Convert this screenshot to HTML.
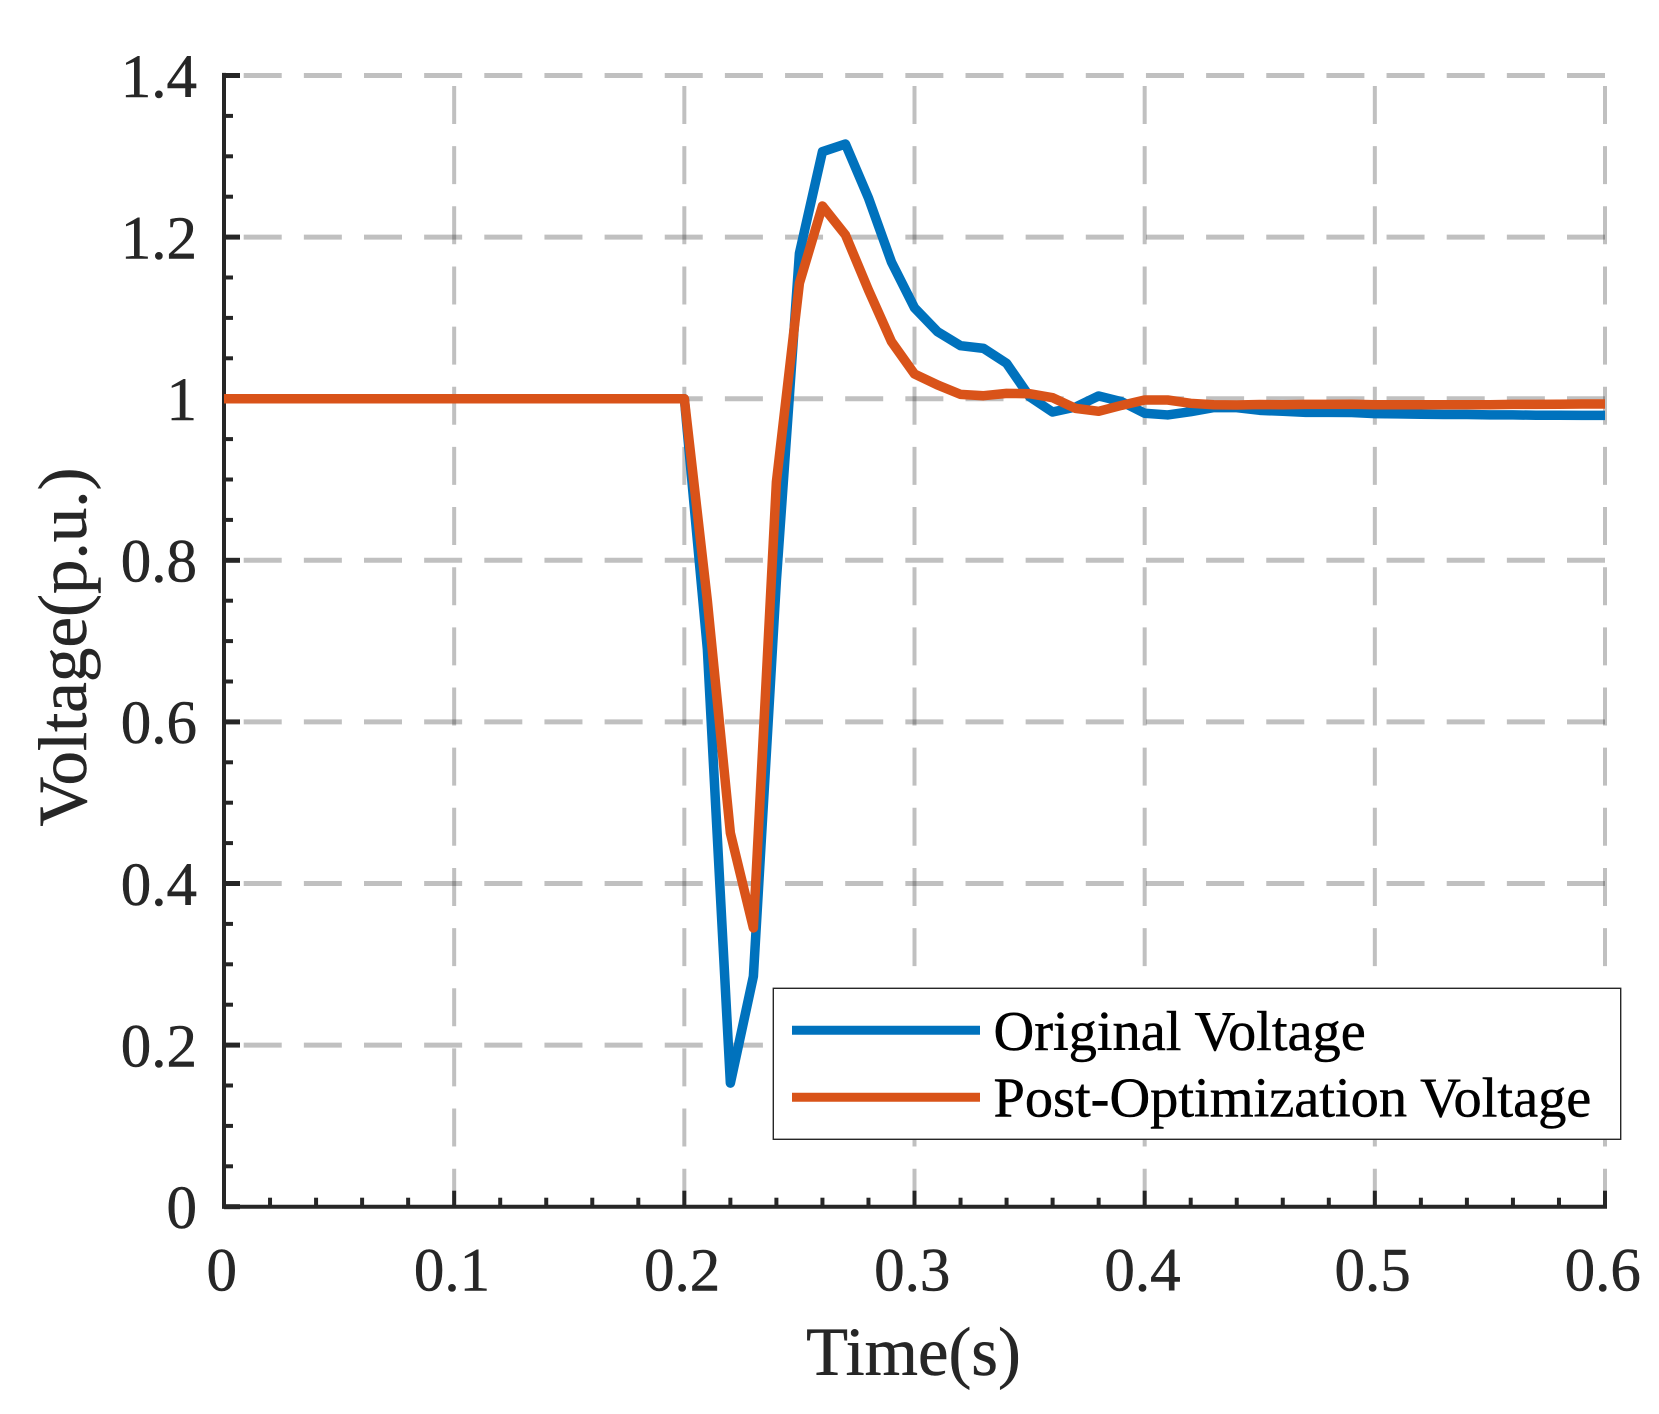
<!DOCTYPE html>
<html lang="en">
<head>
<meta charset="utf-8">
<title>Voltage vs Time</title>
<style>
html,body{margin:0;padding:0;background:#fff;}
svg{display:block;}
text{font-family:"Liberation Serif","Times New Roman",serif;}
</style>
</head>
<body>
<svg id="chart" xmlns="http://www.w3.org/2000/svg" width="1659" height="1414" viewBox="0 0 1659 1414">
  <rect x="0" y="0" width="1659" height="1414" fill="#ffffff"/>
  <g id="grid"></g>
  <g id="axes"></g>
  <g id="series"></g>
  <g id="tick-labels" font-size="61" fill="#262626" stroke="#262626" stroke-width="0.5"></g>
  <text x="913.5" y="1375" font-size="68.6" fill="#262626" stroke="#262626" stroke-width="0.5" text-anchor="middle">Time(s)</text>
  <text transform="translate(86 647) rotate(-90)" font-size="69" fill="#262626" stroke="#262626" stroke-width="0.5" text-anchor="middle">Voltage(p.u.)</text>
  <g>
    <rect x="773.3" y="988.3" width="847.4" height="151" fill="#ffffff" stroke="#262626" stroke-width="1.4"/>
    <line x1="792" y1="1030.3" x2="980" y2="1030.3" stroke="#0072BD" stroke-width="9"/>
    <line x1="792" y1="1097.3" x2="980" y2="1097.3" stroke="#D95319" stroke-width="9"/>
    <text x="993.5" y="1050" font-size="56.4" fill="#000000" stroke="#000000" stroke-width="0.5">Original Voltage</text>
    <text x="993.5" y="1116.7" font-size="56.4" fill="#000000" stroke="#000000" stroke-width="0.5">Post-Optimization Voltage</text>
  </g>
</svg>
<script>
const timeValues = [0,0.01,0.02,0.03,0.04,0.05,0.06,0.07,0.08,0.09,0.1,0.11,0.12,0.13,0.14,0.15,0.16,0.17,0.18,0.19,
  0.2,0.21,0.22,0.23,0.24,0.25,0.26,0.27,0.28,0.29,0.3,0.31,0.32,0.33,0.34,0.35,0.36,0.37,0.38,0.39,
  0.4,0.41,0.42,0.43,0.44,0.45,0.46,0.47,0.48,0.49,0.5,0.51,0.52,0.53,0.54,0.55,0.56,0.57,0.58,0.59,0.6];
const originalVoltage = [1,1,1,1,1,1,1,1,1,1,1,1,1,1,1,1,1,1,1,1,
  1,0.69,0.153,0.285,0.775,1.18,1.3057,1.3152,1.2484,1.169,1.1125,1.083,1.0656,1.0623,1.0438,1.0025,0.9835,0.9897,1.0034,0.9963,
  0.982,0.9799,0.9839,0.989,0.9889,0.9856,0.9844,0.9831,0.9831,0.9829,0.9815,0.9812,0.9808,0.9805,0.9805,0.98,0.98,0.9795,0.9795,0.9794,0.9794];
const postOptimizationVoltage = [1,1,1,1,1,1,1,1,1,1,1,1,1,1,1,1,1,1,1,1,
  1,0.75,0.4625,0.345,0.897,1.143,1.2385,1.2027,1.1345,1.0706,1.0306,1.017,1.0054,1.0037,1.0066,1.0062,1.0013,0.988,0.9844,0.9918,
  0.9984,0.9984,0.9943,0.9925,0.9922,0.9928,0.9925,0.993,0.993,0.9932,0.9925,0.9925,0.9925,0.9925,0.9925,0.9925,0.993,0.993,0.9932,0.9934,0.9934];
const xTickValues = [0,0.1,0.2,0.3,0.4,0.5,0.6];
const xTickLabels = ["0","0.1","0.2","0.3","0.4","0.5","0.6"];
const yTickValues = [0,0.2,0.4,0.6,0.8,1,1.2,1.4];
const yTickLabels = ["0","0.2","0.4","0.6","0.8","1","1.2","1.4"];
const xMinorTickValues = [0.02,0.04,0.06,0.08,0.12,0.14,0.16,0.18,0.22,0.24,0.26,0.28,0.32,0.34,0.36,0.38,0.42,0.44,0.46,0.48,0.52,0.54,0.56,0.58];
const yMinorTickValues = [0.05,0.1,0.15,0.25,0.3,0.35,0.45,0.5,0.55,0.65,0.7,0.75,0.85,0.9,0.95,1.05,1.1,1.15,1.25,1.3,1.35];

const SVG_NS = 'http://www.w3.org/2000/svg';
const xScale = v => 224 + v * 2301.67;
const yScale = v => 1206.7 - v * 808;
const AXIS_COLOR = '#262626';

function makeLine(parent, x1, y1, x2, y2, stroke, width, dash) {
  const el = document.createElementNS(SVG_NS, 'line');
  el.setAttribute('x1', x1);
  el.setAttribute('y1', y1);
  el.setAttribute('x2', x2);
  el.setAttribute('y2', y2);
  el.setAttribute('stroke', stroke);
  el.setAttribute('stroke-width', width);
  if (dash) el.setAttribute('stroke-dasharray', dash);
  parent.appendChild(el);
  return el;
}

const gridGroup = document.getElementById('grid');
const axesGroup = document.getElementById('axes');
const seriesGroup = document.getElementById('series');
const labelGroup = document.getElementById('tick-labels');

xTickValues.forEach(v => {
  if (v === 0) return;
  const el = makeLine(gridGroup, xScale(v), yScale(0), xScale(v), yScale(1.4), 'rgba(38,38,38,0.29)', 4, '38 22.15');
  
  
});
yTickValues.forEach(v => {
  if (v === 0) return;
  const el = makeLine(gridGroup, xScale(0.6), yScale(v), xScale(0), yScale(v), 'rgba(38,38,38,0.29)', 5, '38 22.15');
  
  
});

const yAxisLine = makeLine(axesGroup, xScale(0), yScale(1.4) - 2.6, xScale(0), yScale(0) + 2, AXIS_COLOR, 4);


const xAxisLine = makeLine(axesGroup, xScale(0) - 2, yScale(0), xScale(0.6) + 2, yScale(0), AXIS_COLOR, 4);



xTickValues.forEach((v, i) => {
  const tick = makeLine(axesGroup, xScale(v), yScale(0), xScale(v), yScale(0) - 16, AXIS_COLOR, 4);
  
  
  const t = document.createElementNS(SVG_NS, 'text');
  t.setAttribute('x', xScale(v) - 2.2);
  t.setAttribute('y', 1290.5);
  t.setAttribute('text-anchor', 'middle');
  
  
  t.textContent = xTickLabels[i];
  labelGroup.appendChild(t);
});
xMinorTickValues.forEach(v => {
  const tick = makeLine(axesGroup, xScale(v), yScale(0), xScale(v), yScale(0) - 9, AXIS_COLOR, 4);
  
  
});
yTickValues.forEach((v, i) => {
  const tick = makeLine(axesGroup, xScale(0), yScale(v), xScale(0) + 16, yScale(v), AXIS_COLOR, 5);
  
  
  const t = document.createElementNS(SVG_NS, 'text');
  t.setAttribute('x', 197);
  t.setAttribute('y', yScale(v) + 21.3);
  t.setAttribute('text-anchor', 'end');
  
  
  t.textContent = yTickLabels[i];
  labelGroup.appendChild(t);
});
yMinorTickValues.forEach(v => {
  const tick = makeLine(axesGroup, xScale(0), yScale(v), xScale(0) + 9, yScale(v), AXIS_COLOR, 4);
  
  
});

function makeSeries(values, color) {
  const el = document.createElementNS(SVG_NS, 'polyline');
  el.setAttribute('points', values.map((v, i) => xScale(timeValues[i]).toFixed(2) + ',' + yScale(v).toFixed(2)).join(' '));
  el.setAttribute('fill', 'none');
  el.setAttribute('stroke', color);
  el.setAttribute('stroke-width', 9.5);
  el.setAttribute('stroke-linejoin', 'round');
  el.setAttribute('stroke-linecap', 'butt');
  seriesGroup.appendChild(el);
  return el;
}
const originalLine = makeSeries(originalVoltage, '#0072BD');


const postLine = makeSeries(postOptimizationVoltage, '#D95319');


</script>
</body>
</html>
